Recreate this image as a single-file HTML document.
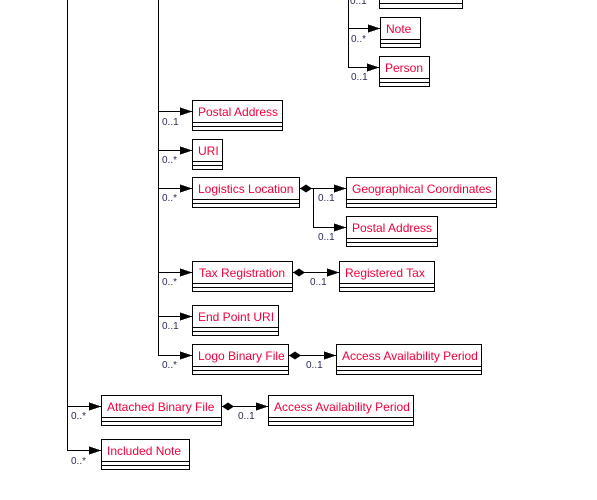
<!DOCTYPE html>
<html><head><meta charset="utf-8"><style>
html,body{margin:0;padding:0;background:#fff;width:597px;height:500px;overflow:hidden}
svg text{font-family:"Liberation Sans",sans-serif}
.t{fill:#f0003c;font-size:12px}
.m{fill:#2a2a55;font-size:10px}
</style></head><body>
<svg width="597" height="500" xmlns="http://www.w3.org/2000/svg" shape-rendering="crispEdges">
<defs>
<marker id="a" markerWidth="12" markerHeight="10" refX="12" refY="5" orient="auto" markerUnits="userSpaceOnUse"><path d="M0,1 L12,5 L0,9 Z" fill="#000"/></marker>
</defs>
<g stroke="#000" stroke-width="1" fill="none">
<line x1="67.5" y1="0" x2="67.5" y2="451"/>
<line x1="158.5" y1="0" x2="158.5" y2="356"/>
<line x1="348.5" y1="0" x2="348.5" y2="68"/>
<line x1="313.5" y1="188" x2="313.5" y2="228"/>
</g>
<g stroke="#000" stroke-width="1">
<line x1="348" y1="28.5" x2="380" y2="28.5" marker-end="url(#a)"/>
<line x1="348" y1="67.5" x2="379" y2="67.5" marker-end="url(#a)"/>
<line x1="158" y1="111.5" x2="192" y2="111.5" marker-end="url(#a)"/>
<line x1="158" y1="150.5" x2="192" y2="150.5" marker-end="url(#a)"/>
<line x1="158" y1="188.5" x2="192" y2="188.5" marker-end="url(#a)"/>
<line x1="300" y1="188.5" x2="346" y2="188.5" marker-end="url(#a)"/>
<line x1="313" y1="227.5" x2="346" y2="227.5" marker-end="url(#a)"/>
<line x1="158" y1="272.5" x2="192" y2="272.5" marker-end="url(#a)"/>
<line x1="293" y1="272.5" x2="339" y2="272.5" marker-end="url(#a)"/>
<line x1="158" y1="316.5" x2="192" y2="316.5" marker-end="url(#a)"/>
<line x1="158" y1="355.5" x2="192" y2="355.5" marker-end="url(#a)"/>
<line x1="289" y1="355.5" x2="336" y2="355.5" marker-end="url(#a)"/>
<line x1="67" y1="406.5" x2="101" y2="406.5" marker-end="url(#a)"/>
<line x1="222" y1="406.5" x2="268" y2="406.5" marker-end="url(#a)"/>
<line x1="67" y1="450.5" x2="101" y2="450.5" marker-end="url(#a)"/>
</g>
<g fill="#000" shape-rendering="auto">
<path d="M300,188.5 l6,-4 l6,4 l-6,4z"/>
<path d="M293,272.5 l6,-4 l6,4 l-6,4z"/>
<path d="M289,355.5 l6,-4 l6,4 l-6,4z"/>
<path d="M222,406.5 l6,-4 l6,4 l-6,4z"/>
</g>
<g stroke="#000" fill="#fff">
<rect x="379.5" y="-22.5" width="83" height="31"/><line x1="379" y1="-0.5" x2="462" y2="-0.5"/><line x1="379" y1="3.5" x2="462" y2="3.5"/>
<rect x="380.5" y="17.5" width="40" height="30"/><line x1="380" y1="39.5" x2="420" y2="39.5"/><line x1="380" y1="43.5" x2="420" y2="43.5"/>
<rect x="379.5" y="56.5" width="50" height="30"/><line x1="379" y1="78.5" x2="429" y2="78.5"/><line x1="379" y1="82.5" x2="429" y2="82.5"/>
<rect x="192.5" y="100.5" width="90" height="30"/><line x1="192" y1="122.5" x2="282" y2="122.5"/><line x1="192" y1="126.5" x2="282" y2="126.5"/>
<rect x="192.5" y="139.5" width="30" height="30"/><line x1="192" y1="161.5" x2="222" y2="161.5"/><line x1="192" y1="165.5" x2="222" y2="165.5"/>
<rect x="192.5" y="177.5" width="107" height="30"/><line x1="192" y1="199.5" x2="299" y2="199.5"/><line x1="192" y1="203.5" x2="299" y2="203.5"/>
<rect x="346.5" y="177.5" width="150" height="30"/><line x1="346" y1="199.5" x2="496" y2="199.5"/><line x1="346" y1="203.5" x2="496" y2="203.5"/>
<rect x="346.5" y="216.5" width="91" height="30"/><line x1="346" y1="238.5" x2="437" y2="238.5"/><line x1="346" y1="242.5" x2="437" y2="242.5"/>
<rect x="192.5" y="261.5" width="100" height="30"/><line x1="192" y1="283.5" x2="292" y2="283.5"/><line x1="192" y1="287.5" x2="292" y2="287.5"/>
<rect x="339.5" y="261.5" width="95" height="30"/><line x1="339" y1="283.5" x2="434" y2="283.5"/><line x1="339" y1="287.5" x2="434" y2="287.5"/>
<rect x="192.5" y="305.5" width="86" height="30"/><line x1="192" y1="327.5" x2="278" y2="327.5"/><line x1="192" y1="331.5" x2="278" y2="331.5"/>
<rect x="192.5" y="344.5" width="96" height="30"/><line x1="192" y1="366.5" x2="288" y2="366.5"/><line x1="192" y1="370.5" x2="288" y2="370.5"/>
<rect x="336.5" y="344.5" width="145" height="30"/><line x1="336" y1="366.5" x2="481" y2="366.5"/><line x1="336" y1="370.5" x2="481" y2="370.5"/>
<rect x="101.5" y="395.5" width="120" height="30"/><line x1="101" y1="417.5" x2="221" y2="417.5"/><line x1="101" y1="421.5" x2="221" y2="421.5"/>
<rect x="268.5" y="395.5" width="145" height="30"/><line x1="268" y1="417.5" x2="413" y2="417.5"/><line x1="268" y1="421.5" x2="413" y2="421.5"/>
<rect x="101.5" y="439.5" width="88" height="30"/><line x1="101" y1="461.5" x2="189" y2="461.5"/><line x1="101" y1="465.5" x2="189" y2="465.5"/>
</g>
<g class="t">
<text x="386" y="33">Note</text>
<text x="385" y="72">Person</text>
<text x="198" y="116">Postal Address</text>
<text x="198" y="155">URI</text>
<text x="198" y="193">Logistics Location</text>
<text x="352" y="193">Geographical Coordinates</text>
<text x="352" y="232">Postal Address</text>
<text x="199" y="277">Tax Registration</text>
<text x="345" y="277">Registered Tax</text>
<text x="198" y="321">End Point URI</text>
<text x="198" y="360">Logo Binary File</text>
<text x="342" y="360">Access Availability Period</text>
<text x="107" y="411">Attached Binary File</text>
<text x="274" y="411">Access Availability Period</text>
<text x="107" y="455">Included Note</text>
</g>
<g class="m">
<text x="350" y="4">0..1</text>
<text x="351" y="42">0..*</text>
<text x="351" y="80">0..1</text>
<text x="162" y="125">0..1</text>
<text x="162" y="163">0..*</text>
<text x="162" y="201">0..*</text>
<text x="318" y="240">0..1</text>
<text x="318" y="201">0..1</text>
<text x="162" y="285">0..*</text>
<text x="310" y="285">0..1</text>
<text x="162" y="329">0..1</text>
<text x="162" y="368">0..*</text>
<text x="306" y="368">0..1</text>
<text x="71" y="419">0..*</text>
<text x="238" y="419">0..1</text>
<text x="71" y="464">0..*</text>
</g>
</svg>
</body></html>
